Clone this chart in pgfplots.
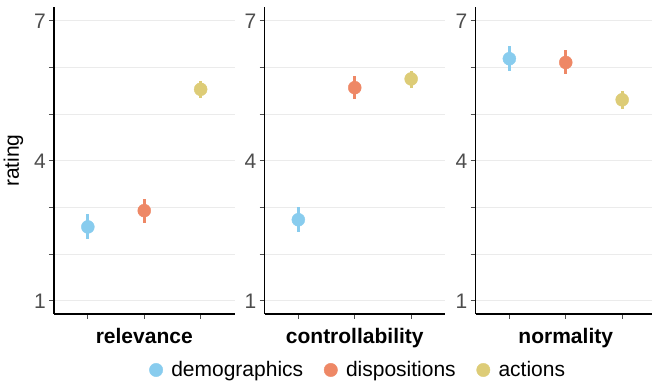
\documentclass[border=0pt]{standalone}
\usepackage{pgfplots}
\pgfplotsset{compat=1.18}
\usepackage{fontspec}
\setmainfont{Liberation Sans}
\definecolor{cdemo}{HTML}{88CCEE}
\definecolor{cdisp}{HTML}{EE8866}
\definecolor{cact}{HTML}{DDCC77}
\definecolor{tickgray}{HTML}{4D4D4D}
\definecolor{gridgray}{HTML}{EBEBEB}
\newcommand\sz{\fontsize{21bp}{25bp}\selectfont}
\pgfplotsset{
  panel/.style={
    scale only axis, width=180.5bp, height=306.6bp,
    anchor=south west,
    xmin=0.4, xmax=3.6, ymin=0.72, ymax=7.29,
    axis lines=left,
    axis line style={-, black, line width=1.1bp},
    tick align=outside, major tick length=5bp,
    tick style={tickgray, line width=1.1bp},
    xtick={1,2,3}, xticklabels={},
    ytick={1,2,3,4,5,6,7}, yticklabels={1,,,4,,,7},
    /pgf/number format/assume math mode=true,
    yticklabel style={font=\sz, text=tickgray, inner sep=0pt, xshift=-3bp},
    ymajorgrids, grid style={gridgray, line width=1.1bp},
    xlabel style={font=\sz\bfseries, at={([yshift=-29.3bp]axis description cs:0.5,0)}, anchor=base},
    ylabel style={font=\sz, at={([xshift=-35bp]axis description cs:0,0.5)}, anchor=base},
    every axis plot/.append style={only marks, mark=*, mark size=6.5bp,
      error bars/y dir=both, error bars/y explicit, error bars/error mark=none},
  },
  s/.style={color=#1, mark options={draw=#1, fill=#1},
    error bars/error bar style={line width=3bp, color=#1}},
}
\begin{document}
\sz
\begin{tikzpicture}
\path[use as bounding box] (0bp,0bp) rectangle (652bp,383bp);
\begin{axis}[panel, at={(54bp,69bp)}, xlabel={relevance}, ylabel={rating}]
\addplot[s=cdemo] coordinates {(1,2.586) += (0,0.274) -= (0,0.266)};
\addplot[s=cdisp] coordinates {(2,2.935) += (0,0.245) -= (0,0.255)};
\addplot[s=cact] coordinates {(3,5.535) += (0,0.185) -= (0,0.195)};
\end{axis}
\begin{axis}[panel, at={(264.5bp,69bp)}, xlabel={controllability},
  legend columns=3,
  legend style={draw=none, fill=none, inner sep=0pt, row sep=0pt,
    at={(-0.6399,-0.1826)}, anchor=west,
    nodes={inner sep=0pt, font=\sz, text=black}},
  legend cell align=left,
  /tikz/every odd column/.append style={column sep=8.3bp},
  /tikz/every even column/.append style={column sep=20.7bp},
  legend image code/.code={\fill[#1] (0bp,0bp) circle[radius=6.7bp];}]
\addplot[s=cdemo] coordinates {(1,2.74) += (0,0.27) -= (0,0.27)};
\addplot[s=cdisp] coordinates {(2,5.57) += (0,0.25) -= (0,0.25)};
\addplot[s=cact] coordinates {(3,5.757) += (0,0.173) -= (0,0.197)};
\legend{demographics, dispositions, actions}
\end{axis}
\begin{axis}[panel, at={(475.5bp,69bp)}, xlabel={normality}]
\addplot[s=cdemo] coordinates {(1,6.19) += (0,0.27) -= (0,0.27)};
\addplot[s=cdisp] coordinates {(2,6.11) += (0,0.26) -= (0,0.25)};
\addplot[s=cact] coordinates {(3,5.31) += (0,0.18) -= (0,0.20)};
\end{axis}
\end{tikzpicture}
\end{document}
